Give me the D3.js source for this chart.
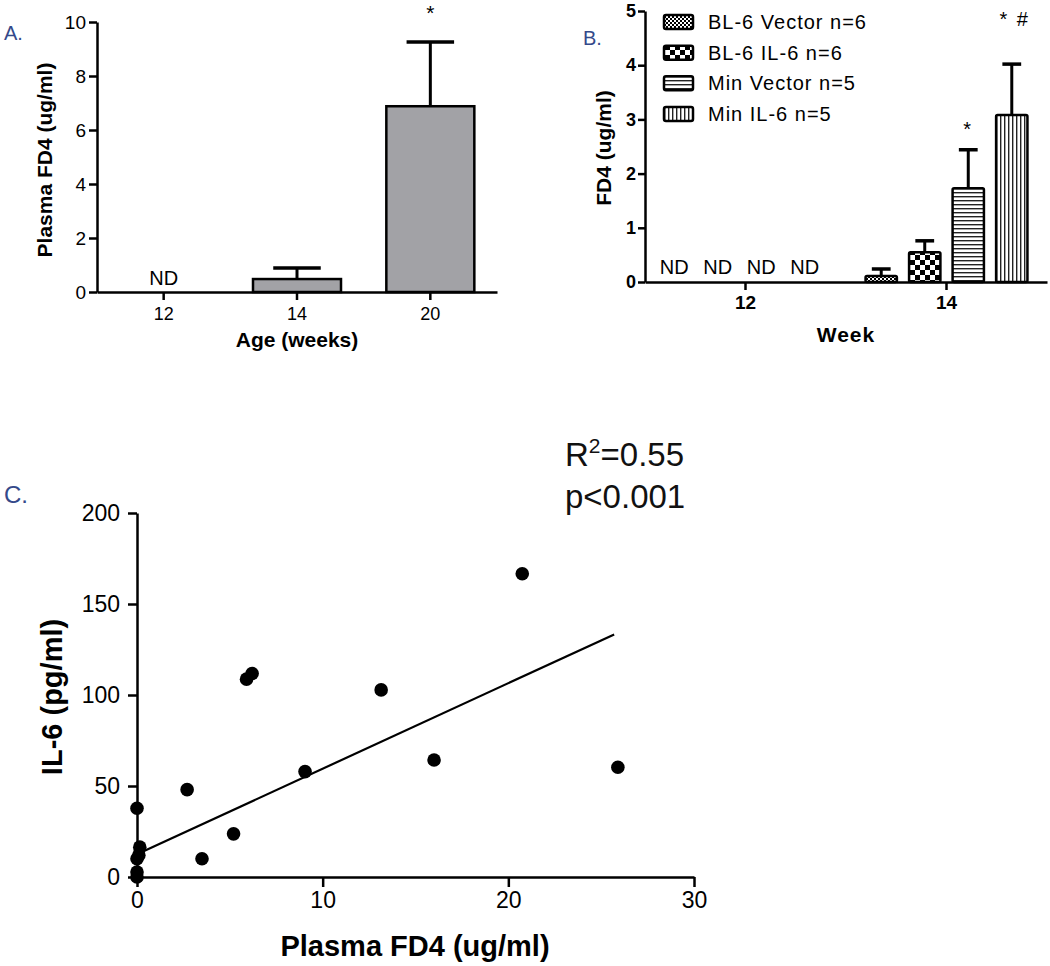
<!DOCTYPE html>
<html><head><meta charset="utf-8">
<script src="https://cdn.jsdelivr.net/npm/d3@7"></script>
<style>
body{margin:0;background:#fff}
svg{display:block}
text{font-family:"Liberation Sans",Arial,Helvetica,sans-serif}
</style>
</head><body>
<svg id="chart" width="1050" height="966"></svg>
<script>
// ---------- Panel A data ----------
const ageCats = ["12", "14", "20"];
const ageMeans = [0, 0.48, 6.88];
const ageSem = [0, 0.41, 2.38];
const ageNotes = ["ND", "", ""];
const ageStars = ["", "", "*"];
const ageTicks = [0, 2, 4, 6, 8, 10];

// ---------- Panel B data ----------
const weekCats = ["12", "14"];
const groupNames = ["BL-6 Vector n=6", "BL-6 IL-6 n=6", "Min Vector n=5", "Min IL-6 n=5"];
const week12Notes = ["ND", "ND", "ND", "ND"];
const week14Means = [0.11, 0.55, 1.73, 3.08];
const week14Sem = [0.13, 0.21, 0.71, 0.94];
const week14Stars = ["", "", "*", "* #"];
const fd4Ticks = [0, 1, 2, 3, 4, 5];

// ---------- Panel C data ----------
const plasmaFD4 = [20.75, 25.9, 16.0, 13.15, 9.05, 5.9, 6.2, 2.7, 5.2, 3.5, 0, 0.15, 0, 0, 0, 0.1];
const il6 = [166.6, 60.3, 64.3, 102.8, 57.9, 108.7, 111.8, 48.0, 23.7, 10.0, 37.8, 16.4, 10, 2.7, 0, 12];
const fitIntercept = 12.5, fitSlope = 4.7, fitXmax = 25.7;
const cXTicks = [0, 10, 20, 30];
const cYTicks = [0, 50, 100, 150, 200];
const statLines = ["R", "=0.55", "p<0.001"];

const svg = d3.select("#chart");
const labelBlue = "#34498a";
const fmt = d3.format("d");

// patterns
const defs = svg.append("defs");
function pat(id, w, h, draw) {
  const p = defs.append("pattern").attr("id", id).attr("patternUnits", "userSpaceOnUse")
    .attr("width", w).attr("height", h);
  p.append("rect").attr("width", w).attr("height", h).attr("fill", "#fff");
  draw(p);
}
pat("p0", 4, 4, p => {
  p.append("rect").attr("x", 0).attr("y", 0).attr("width", 2).attr("height", 2).attr("fill", "#000");
  p.append("rect").attr("x", 2).attr("y", 2).attr("width", 2).attr("height", 2).attr("fill", "#000");
});
pat("p1", 10, 10, p => {
  p.append("rect").attr("x", 0).attr("y", 0).attr("width", 5).attr("height", 5).attr("fill", "#000");
  p.append("rect").attr("x", 5).attr("y", 5).attr("width", 5).attr("height", 5).attr("fill", "#000");
});
pat("p2", 4, 4, p => {
  p.append("rect").attr("x", 0).attr("y", 0).attr("width", 4).attr("height", 1.4).attr("fill", "#222");
});
pat("p3", 4, 4, p => {
  p.append("rect").attr("x", 0).attr("y", 0).attr("width", 1.4).attr("height", 4).attr("fill", "#222");
});
const patIds = ["p0", "p1", "p2", "p3"];

function styleAxis(g, fontSize, weight, width) {
  g.attr("font-family", null).attr("font-size", null);
  g.select(".domain").attr("stroke", "#000").attr("stroke-width", width);
  g.selectAll(".tick line").attr("stroke", "#000").attr("stroke-width", width);
  g.selectAll(".tick text").attr("fill", "#000").style("font-size", fontSize + "px").style("font-weight", weight);
}

// ================= Panel A =================
{
  const x = d3.scaleBand().domain(ageCats).range([97, 497]).paddingInner(0.34).paddingOuter(0.17);
  const y = d3.scaleLinear().domain([0, 10]).range([292, 22]);
  const g = svg.append("g");

  ageCats.forEach((c, i) => {
    if (ageMeans[i] > 0) {
      const x0 = x(c), bw = x.bandwidth();
      const cx = x0 + bw / 2, cap = bw * 0.27;
      g.append("line").attr("x1", cx).attr("x2", cx).attr("y1", y(ageMeans[i])).attr("y2", y(ageMeans[i] + ageSem[i]))
        .attr("stroke", "#000").attr("stroke-width", 3);
      g.append("line").attr("x1", cx - cap).attr("x2", cx + cap).attr("y1", y(ageMeans[i] + ageSem[i])).attr("y2", y(ageMeans[i] + ageSem[i]))
        .attr("stroke", "#000").attr("stroke-width", 3.5);
      g.append("rect").attr("x", x0).attr("y", y(ageMeans[i])).attr("width", bw).attr("height", y(0) - y(ageMeans[i]))
        .attr("fill", "#a2a2a6").attr("stroke", "#000").attr("stroke-width", 2.5);
    }
    if (ageNotes[i]) {
      g.append("text").attr("x", x(c) + x.bandwidth() / 2).attr("y", 285).attr("text-anchor", "middle")
        .style("font-size", "20px").text(ageNotes[i]);
    }
    if (ageStars[i]) {
      g.append("text").attr("x", x(c) + x.bandwidth() / 2).attr("y", y(ageMeans[i] + ageSem[i]) - 22).attr("text-anchor", "middle")
        .style("font-size", "21px").text(ageStars[i]);
    }
  });

  const ya = g.append("g").attr("transform", "translate(97,0)")
    .call(d3.axisLeft(y).tickValues(ageTicks).tickFormat(fmt).tickSize(8).tickSizeOuter(0).tickPadding(3));
  styleAxis(ya, 19, "normal", 2.5);
  const xa = g.append("g").attr("transform", "translate(0,292)")
    .call(d3.axisBottom(x).tickSize(8).tickSizeOuter(0).tickPadding(7));
  styleAxis(xa, 18, "normal", 2.5);

  g.append("text").attr("transform", "translate(52,160) rotate(-90)").attr("text-anchor", "middle")
    .style("font-size", "21px").style("font-weight", "bold").text("Plasma FD4 (ug/ml)");
  g.append("text").attr("x", 297).attr("y", 347).attr("text-anchor", "middle")
    .style("font-size", "21px").style("font-weight", "bold").text("Age (weeks)");
  g.append("text").attr("x", 4).attr("y", 40).attr("fill", labelBlue).style("font-size", "20px").text("A.");
}

// ================= Panel B =================
{
  const x0 = d3.scaleBand().domain(weekCats).range([645, 1047]).paddingInner(0.134).paddingOuter(0.067);
  const x1 = d3.scaleBand().domain(groupNames).range([0, x0.bandwidth()]).paddingInner(0.28).paddingOuter(0.14);
  const y = d3.scaleLinear().domain([0, 5]).range([282, 11]);
  const g = svg.append("g");

  groupNames.forEach((n, i) => {
    g.append("text").attr("x", x0("12") + x1(n) + x1.bandwidth() / 2 - 6).attr("y", 274).attr("text-anchor", "middle")
      .style("font-size", "20px").text(week12Notes[i]);
  });
  groupNames.forEach((n, i) => {
    const bx = x0("14") + x1(n), bw = x1.bandwidth(), cx = bx + bw / 2, cap = bw * 0.3;
    const top = y(week14Means[i] + week14Sem[i]);
    g.append("line").attr("x1", cx).attr("x2", cx).attr("y1", y(week14Means[i])).attr("y2", top)
      .attr("stroke", "#000").attr("stroke-width", 3);
    g.append("line").attr("x1", cx - cap).attr("x2", cx + cap).attr("y1", top).attr("y2", top)
      .attr("stroke", "#000").attr("stroke-width", 3.5);
    g.append("rect").attr("x", bx).attr("y", y(week14Means[i])).attr("width", bw).attr("height", y(0) - y(week14Means[i]))
      .attr("rx", 1.5).attr("fill", "url(#" + patIds[i] + ")").attr("stroke", "#000").attr("stroke-width", 2.5);
    if (week14Stars[i]) {
      g.append("text").attr("x", cx + (i === 3 ? 3 : 0)).attr("y", i === 3 ? 26 : top - 14).attr("text-anchor", "middle")
        .style("font-size", "20px").style("letter-spacing", "2px").text(week14Stars[i]);
    }
  });

  const ya = g.append("g").attr("transform", "translate(645,0)")
    .call(d3.axisLeft(y).tickValues(fd4Ticks).tickFormat(fmt).tickSize(7).tickSizeOuter(0).tickPadding(2));
  styleAxis(ya, 18, "bold", 2.5);
  const xa = g.append("g").attr("transform", "translate(0,282)")
    .call(d3.axisBottom(x0).tickSize(8).tickSizeOuter(0).tickPadding(6));
  styleAxis(xa, 19, "bold", 2.5);

  g.append("text").attr("transform", "translate(611,148) rotate(-90)").attr("text-anchor", "middle")
    .style("font-size", "21px").style("font-weight", "bold").text("FD4 (ug/ml)");
  g.append("text").attr("x", 846).attr("y", 342).attr("text-anchor", "middle")
    .style("font-size", "21px").style("font-weight", "bold").style("letter-spacing", "1px").text("Week");
  g.append("text").attr("x", 583).attr("y", 45).attr("fill", labelBlue).style("font-size", "20px").text("B.");

  const ly = d3.scalePoint().domain(groupNames).range([22, 114]);
  groupNames.forEach((n, i) => {
    g.append("rect").attr("x", 664).attr("y", ly(n) - 7).attr("width", 29).attr("height", 14).attr("rx", 2)
      .attr("fill", "url(#" + patIds[i] + ")").attr("stroke", "#000").attr("stroke-width", 2.5);
    g.append("text").attr("x", 708).attr("y", ly(n) + 7).style("font-size", "20px").style("letter-spacing", "1px").text(n);
  });
}

// ================= Panel C =================
{
  const x = d3.scaleLinear().domain([0, 30]).range([137, 694]);
  const y = d3.scaleLinear().domain([0, 200]).range([877, 513]);
  const g = svg.append("g");

  const ya = g.append("g").attr("transform", "translate(137,0)")
    .call(d3.axisLeft(y).tickValues(cYTicks).tickFormat(fmt).tickSize(9).tickSizeOuter(0).tickPadding(8));
  styleAxis(ya, 23, "normal", 2.5);
  const xa = g.append("g").attr("transform", "translate(0,877)")
    .call(d3.axisBottom(x).tickValues(cXTicks).tickFormat(fmt).tickSize(10).tickSizeOuter(0).tickPadding(5));
  styleAxis(xa, 23, "normal", 2.5);

  g.append("line").attr("x1", x(0)).attr("y1", y(fitIntercept)).attr("x2", x(fitXmax)).attr("y2", y(fitIntercept + fitSlope * fitXmax))
    .attr("stroke", "#000").attr("stroke-width", 2.2);

  g.selectAll("circle.pt").data(plasmaFD4.map((v, i) => [v, il6[i]])).join("circle")
    .attr("class", "pt").attr("cx", d => x(d[0])).attr("cy", d => y(d[1])).attr("r", 6.8).attr("fill", "#000");

  g.append("text").attr("transform", "translate(62,697) rotate(-90)").attr("text-anchor", "middle")
    .style("font-size", "29px").style("font-weight", "bold").text("IL-6 (pg/ml)");
  g.append("text").attr("x", 415).attr("y", 956).attr("text-anchor", "middle")
    .style("font-size", "29px").style("font-weight", "bold").text("Plasma FD4 (ug/ml)");
  g.append("text").attr("x", 4).attr("y", 503).attr("fill", labelBlue).style("font-size", "24px").text("C.");

  const t = g.append("text").attr("x", 565).attr("y", 466).style("font-size", "33px").attr("fill", "#111");
  t.append("tspan").text(statLines[0]);
  t.append("tspan").attr("dy", -13).style("font-size", "21px").text("2");
  t.append("tspan").attr("dy", 13).text(statLines[1]);
  g.append("text").attr("x", 565).attr("y", 508).style("font-size", "33px").attr("fill", "#111").text(statLines[2]);
}
</script>
</body></html>
